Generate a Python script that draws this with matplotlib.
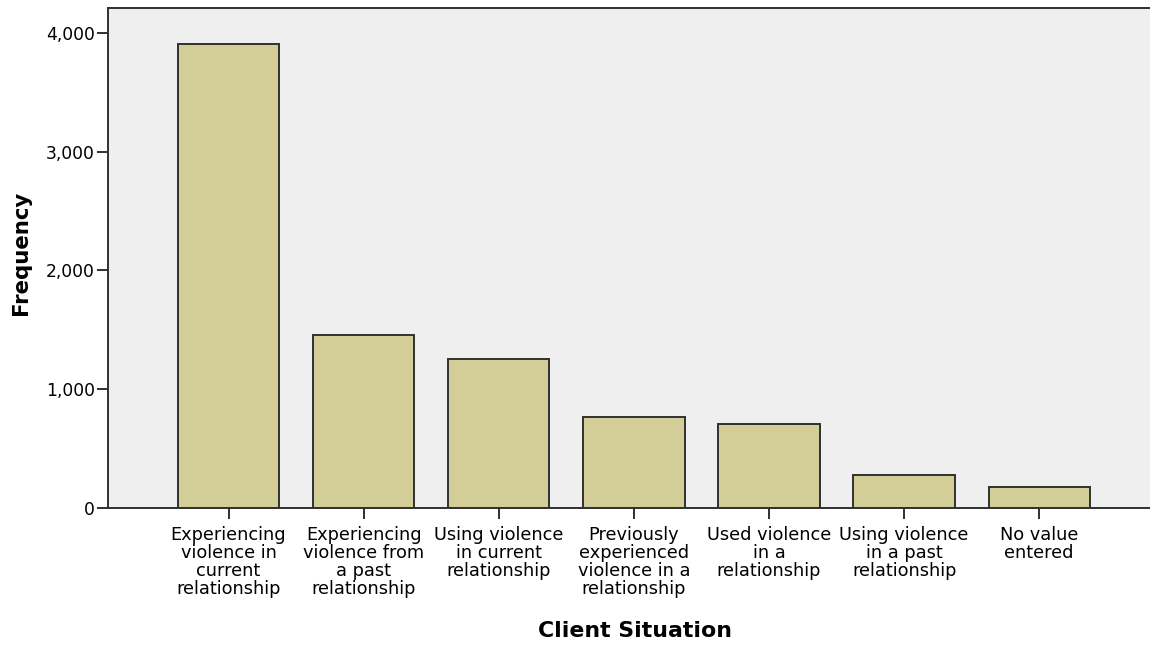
import numpy as np
import matplotlib
matplotlib.use("Agg")
from matplotlib import pyplot as plt

plt.rcParams["font.family"] = ["DejaVu Sans"]

# chart data
categories = [
    "Experiencing\nviolence in\ncurrent\nrelationship",
    "Experiencing\nviolence from\na past\nrelationship",
    "Using violence\nin current\nrelationship",
    "Previously\nexperienced\nviolence in a\nrelationship",
    "Used violence\nin a\nrelationship",
    "Using violence\nin a past\nrelationship",
    "No value\nentered",
]
frequency = [3910, 1457, 1255, 766, 707, 278, 179]
yticks = [0, 1000, 2000, 3000, 4000]

fig = plt.figure(figsize=(11.5, 6.48), dpi=100)
ax = fig.add_axes([108 / 1150, 140 / 648, 1042 / 1150, 500 / 648])
ax.set_facecolor("#EFEFEF")

x = np.arange(len(categories))
ax.bar(x, frequency, width=0.75, color="#D3CE97", edgecolor="#303030", linewidth=1.4, zorder=2)

ax.set_xlim(-0.892, 6.82)
ax.set_ylim(0, 4210)
ax.set_yticks(yticks)
ax.set_yticklabels([f"{v:,}" for v in yticks])
ax.set_xticks(x)
ax.set_xticklabels(categories, linespacing=1.0)

ax.tick_params(axis="y", direction="out", length=8, width=1.4, labelsize=12.3, pad=1.5, color="#303030")
ax.tick_params(axis="x", direction="out", length=8, width=1.4, labelsize=12.8, pad=5, color="#303030")

for side in ["left", "bottom", "top"]:
    ax.spines[side].set_linewidth(1.4)
    ax.spines[side].set_color("#303030")
ax.spines["right"].set_visible(False)

ax.set_ylabel("Frequency", fontsize=15.3, fontweight="bold")
ax.set_xlabel("Client Situation", fontsize=15.8, fontweight="bold")
ax.yaxis.set_label_coords(-0.074, 0.511)
ax.xaxis.set_label_coords(0.506, -0.226)

fig.savefig("out.png", dpi=100)
